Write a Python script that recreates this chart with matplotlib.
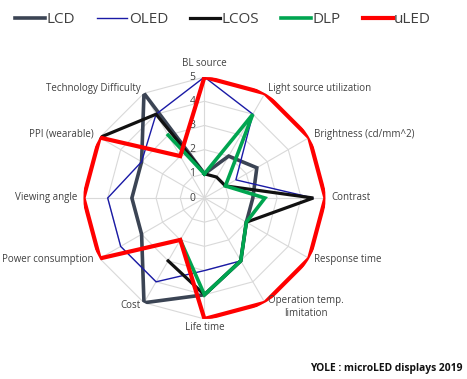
import matplotlib.pyplot as plt
import numpy as np

# radar data, axes go clockwise from the top
categories = ['BL source', 'Light source utilization', 'Brightness (cd/mm^2)', 'Contrast',
              'Response time', 'Operation temp.\nlimitation', 'Life time', 'Cost',
              'Power consumption', 'Viewing angle', 'PPI (wearable)', 'Technology Difficulty']
nan = np.nan
lcd = [1, 2, 2.5, 2, 2, 3, 4, 5, 3, 3, 3, 5]
oled = [5, 4, 1.5, 4.5, 2, 3, 3, 4, 4, 4, 3, 4]
lcos = [1, 1, 1, 4.5, 2, 3, 4, 3, nan, nan, 5, 4]
dlp = [1, 4, 1, 2.5, 2, 3, 4, 2, nan, nan, nan, 3]
uled = [5, 5, 5, 5, 5, 5, 5, 2, 5, 5, 5, 2]
rticks = [0, 1, 2, 3, 4, 5]

plt.rcParams['font.family'] = ['Open Sans', 'DejaVu Sans']

n = len(categories)
theta = np.linspace(0, 2 * np.pi, n, endpoint=False)
theta_c = np.append(theta, theta[0])

fig = plt.figure(figsize=(4.67, 3.79), dpi=100)
ax = fig.add_axes([0.1788, 0.1583, 0.518, 0.6385], projection='polar')
ax.set_theta_zero_location('N')
ax.set_theta_direction(-1)
ax.set_ylim(0, 5)
ax.grid(False)
ax.set_xticks([])
ax.set_yticks([])
ax.spines['polar'].set_visible(False)
ax.patch.set_alpha(0)

# polygon grid
for r in rticks[1:]:
    ax.plot(theta_c, [r] * (n + 1), color='#d9d9d9', lw=0.8, zorder=1)
for t in theta:
    ax.plot([t, t], [0, 5], color='#d9d9d9', lw=0.8, zorder=1)

series = [('LCD', lcd, '#3b4454', 2.6),
          ('OLED', oled, '#1a1aa6', 1.0),
          ('LCOS', lcos, '#111111', 2.3),
          ('DLP', dlp, '#00a550', 2.6),
          ('uLED', uled, '#ff0000', 3.0)]
handles = []
for name, vals, col, lw in series:
    v = np.append(vals, vals[0])
    h, = ax.plot(theta_c, v, color=col, lw=lw, solid_joinstyle='miter', zorder=3, label=name)
    handles.append(h)

# radial tick labels
for r in rticks:
    ax.annotate(str(r), xy=(0, r), xytext=(-9, 0), textcoords='offset pixels',
                ha='right', va='center', fontsize=7.5, color='#404040', zorder=2)

offsets = [(0, 14, 'center'), (3, 5, 'left'), (5, 3.5, 'left'), (6, 1, 'left'),
           (5, -1.5, 'left'), (41, -4, 'center'), (0, -9, 'center'), (-3, -3, 'right'),
           (-6, -1.5, 'right'), (-6, 1, 'right'), (-6, 3.5, 'right'), (-3, 5, 'right')]
for cat, t, (dx, dy, ha) in zip(categories, theta, offsets):
    ax.annotate(cat, xy=(t, 5), xytext=(dx, dy), textcoords='offset pixels',
                ha=ha, va='center', fontsize=7, color='#404040', multialignment='center')

fig.legend(handles=handles, loc='center left', bbox_to_anchor=(0.02, 0.948), ncol=5,
           frameon=False, fontsize=11, handlelength=1.95, handletextpad=0.1,
           columnspacing=1.45, labelcolor='#404040', borderaxespad=0)

fig.text(0.99, 0.028, 'YOLE : microLED displays 2019', ha='right', va='center',
         fontsize=7.4, fontweight='bold', color='#111111')

fig.savefig('out.png', dpi=100)
